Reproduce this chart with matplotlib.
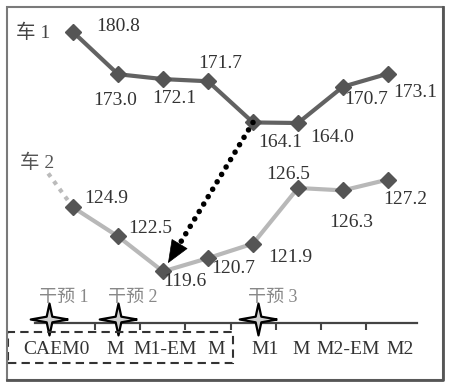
import numpy as np
import matplotlib.pyplot as plt
from matplotlib.patches import Rectangle
import matplotlib.transforms as mtransforms

plt.rcParams['font.family'] = ['Liberation Serif', 'Noto Sans CJK SC']

# 数据
stages = ['CAEM0', 'M', 'M1-EM', 'M', 'M1', 'M', 'M2-EM', 'M2']
car1 = [180.8, 173.0, 172.1, 171.7, 164.1, 164.0, 170.7, 173.1]
car2 = [124.9, 122.5, 119.6, 120.7, 121.9, 126.5, 126.3, 127.2]
car2_before = 127.7
interventions = ['干预 1', '干预 2', '干预 3']
intervention_x = [-0.53, 1.0, 4.1]

# 标签偏移 (像素, 向下为正)
car1_off = [(45, -5), (-3, 26), (11, 19), (12, -18), (27, 20), (34, 15), (23, 13), (27, 19)]
car2_off = [(33, -9), (32, -8), (22, 10), (25, 10), (37, 14), (-10, -13), (8, 32), (17, 20)]
label_shift = [-0.36, -0.07, 0.04, 0.18, 0.27, 0.07, 0.11, 0.27]

W, H = 450, 388
PT = 0.72  # px -> pt at dpi 100
x = np.arange(len(stages))

fig = plt.figure(figsize=(W / 100, H / 100), dpi=100)
ax1 = fig.add_axes([35 / W, 65 / H, 382 / W, 316 / H])
ax1.set_xlim(-0.844, 7.644)
ax1.set_ylim(127.1, 185.4)
ax2 = ax1.twinx()
ax2.set_ylim(115.34, 141.46)

for ax in (ax1, ax2):
    for s in ax.spines.values():
        s.set_visible(False)
    ax.set_yticks([])
    ax.patch.set_visible(False)
ax1.spines['bottom'].set_visible(True)
ax1.spines['bottom'].set_color('#444444')
ax1.spines['bottom'].set_linewidth(1.6)

# 刻度
ax1.set_xticks(x[:-1] + 0.5)
ax1.tick_params(axis='x', which='major', direction='out', length=5, width=1.5,
                color='#444444', labelbottom=False)
ax1.set_xticks(x + np.array(label_shift), minor=True)
ax1.set_xticklabels(stages, minor=True)
ax1.tick_params(axis='x', which='minor', length=0, pad=13, labelsize=14,
                labelcolor='#333333')

# 车 1
ax1.plot(x, car1, color='#626262', lw=3, marker='D', ms=8,
         mfc='#555555', mec='#555555', clip_on=False, zorder=3)
for i, (v, (dx, dy)) in enumerate(zip(car1, car1_off)):
    ax1.annotate(f'{v:.1f}', (i, v), xytext=(dx * PT, -dy * PT),
                 textcoords='offset points', ha='center', va='center',
                 fontsize=14, color='#333333')

# 车 2
ax2.plot([intervention_x[0] - 0.02, 0], [car2_before, car2[0]], color='#bbbbbb',
         lw=3, ls=(0, (1, 1.3)), clip_on=False)
ax2.plot(x, car2, color='#b8b8b8', lw=3, marker='D', ms=8,
         mfc='#555555', mec='#555555', clip_on=False, zorder=3)
for i, (v, (dx, dy)) in enumerate(zip(car2, car2_off)):
    ax2.annotate(f'{v:.1f}', (i, v), xytext=(dx * PT, -dy * PT),
                 textcoords='offset points', ha='center', va='center',
                 fontsize=14, color='#333333')

# 箭头: 车1 -> 车2
start = ax2.transData.inverted().transform(ax1.transData.transform((4, car1[4])))
end = np.array([2, car2[2]])
ax2.annotate('', xy=end, xytext=start,
             arrowprops=dict(arrowstyle='-', color='black', lw=4,
                             linestyle=(0, (0.01, 1.55)), capstyle='round',
                             shrinkA=0, shrinkB=16),
             zorder=5)
head_from = end + 0.16 * (start - end)
ax2.annotate('', xy=end, xytext=head_from,
             arrowprops=dict(arrowstyle='-|>,head_length=1.1,head_width=0.45',
                             color='black', lw=0.5, shrinkA=0, shrinkB=7,
                             mutation_scale=14),
             zorder=5)

# 干预
star = [(1, 0), (0.15, 0.15), (0, 0.85), (-0.15, 0.15), (-1, 0),
        (-0.15, -0.15), (0, -0.85), (0.15, -0.15), (1, 0)]
yoff = 4 / 316
ax1.plot(intervention_x, [yoff] * 3, ls='none', marker=star, ms=27,
         mfc='#cfcfcf', mec='black', mew=1.6,
         transform=ax1.get_xaxis_transform(), clip_on=False, zorder=4)
for xi, txt in zip(intervention_x, interventions):
    ax1.annotate(txt, (xi, yoff), xycoords=ax1.get_xaxis_transform(),
                 xytext=(15 * PT, 22 * PT), textcoords='offset points',
                 ha='center', va='center', fontsize=13, color='#888888')

# 系列名
fig.text(33 / W, 1 - 33 / H, '车 1', ha='center', va='center', fontsize=14, color='#444444')
fig.text(37 / W, 1 - 163 / H, '车 2', ha='center', va='center', fontsize=14, color='#555555')

# 虚线框
blend = mtransforms.blended_transform_factory(ax1.transData, fig.transFigure)
fig.add_artist(Rectangle((-1.45, 1 - 363 / H), 3.556 + 1.45, 31 / H, transform=blend,
                         fill=False, ec='#333333', lw=1.5, ls=(0, (4, 2.5))))

# 外框
fig.add_artist(Rectangle((7 / W, 8 / H), 436 / W, 373 / H, transform=fig.transFigure,
                         fill=False, ec='#7a7a7a', lw=1.5))
fig.add_artist(plt.Line2D([7 / W, 443 / W, 443 / W], [8 / H, 8 / H, 381 / H],
                          transform=fig.transFigure, color='#555555', lw=2))

fig.savefig('out.png', dpi=100)
